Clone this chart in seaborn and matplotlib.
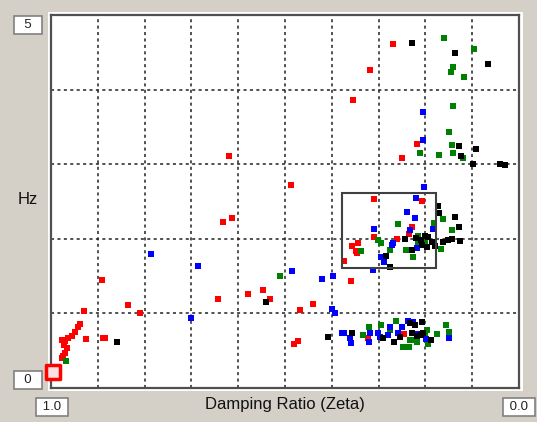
import matplotlib
matplotlib.use("Agg")
import matplotlib.pyplot as plt
import seaborn as sns
import pandas as pd
from matplotlib.patches import Rectangle

sns.set_theme(style="white")
plt.rcParams['font.family'] = ['Liberation Sans', 'DejaVu Sans']

# ---- data (damping ratio zeta, frequency Hz) ----
red_zeta = [0.938, 0.942, 0.949, 0.955, 0.964, 0.970, 0.976, 0.972, 0.966, 0.970, 0.974, 0.976,
            0.925, 0.889, 0.885, 0.929, 0.891, 0.835, 0.810, 0.643, 0.579, 0.547, 0.532, 0.440,
            0.468, 0.472, 0.481, 0.620, 0.487, 0.632, 0.613, 0.269, 0.318, 0.355, 0.218, 0.250,
            0.310, 0.207, 0.229, 0.310, 0.261, 0.235, 0.357, 0.348, 0.344, 0.346, 0.374, 0.359,
            0.323, 0.246]
red_hz = [0.86, 0.82, 0.75, 0.70, 0.67, 0.63, 0.64, 0.58, 0.54, 0.47, 0.43, 0.40,
          0.66, 0.67, 0.67, 1.03, 1.45, 1.11, 1.01, 1.19, 1.26, 1.31, 1.19, 1.13,
          1.05, 0.63, 0.59, 3.11, 2.72, 2.23, 2.28, 4.61, 4.26, 3.86, 3.27, 3.08,
          2.53, 2.51, 2.16, 2.02, 2.00, 2.06, 1.90, 1.84, 1.94, 1.81, 1.70, 1.43,
          0.67, 0.72]

black_zeta = [0.859, 0.541, 0.408, 0.229, 0.137, 0.066, 0.128, 0.124, 0.092, 0.098, 0.041, 0.030,
              0.173, 0.171, 0.137, 0.128, 0.220, 0.244, 0.201, 0.194, 0.186, 0.209, 0.207, 0.179,
              0.162, 0.152, 0.143, 0.126, 0.229, 0.197, 0.284, 0.276, 0.357, 0.291, 0.267, 0.233,
              0.222, 0.207, 0.209, 0.205, 0.188, 0.229, 0.218, 0.254]
black_hz = [0.62, 1.15, 0.68, 4.62, 4.49, 4.34, 3.24, 3.11, 3.20, 3.00, 3.00, 2.99,
            2.44, 2.35, 2.29, 2.16, 2.01, 2.00, 2.04, 2.02, 1.96, 1.98, 1.92, 1.90,
            1.96, 1.98, 2.00, 1.97, 1.85, 1.89, 1.77, 1.62, 0.74, 0.67, 0.62, 0.87,
            0.84, 0.88, 0.71, 0.74, 0.64, 0.74, 0.70, 0.68]

green_zeta = [0.968, 0.511, 0.160, 0.096, 0.141, 0.145, 0.118, 0.141, 0.150, 0.143, 0.212, 0.171,
              0.141, 0.120, 0.162, 0.259, 0.182, 0.143, 0.301, 0.295, 0.216, 0.201, 0.216, 0.241,
              0.276, 0.226, 0.167, 0.338, 0.333, 0.321, 0.295, 0.263, 0.248, 0.235, 0.224, 0.218,
              0.201, 0.197, 0.194, 0.175, 0.156, 0.150, 0.276, 0.233]
green_hz = [0.36, 1.50, 4.69, 4.54, 4.30, 4.24, 4.17, 3.78, 3.43, 3.26, 3.15, 3.12,
            3.15, 3.08, 2.27, 2.20, 2.21, 2.12, 1.98, 1.94, 2.04, 1.96, 1.94, 1.85,
            1.85, 1.76, 1.86, 1.84, 0.71, 0.82, 0.84, 0.90, 0.55, 0.55, 0.64, 0.62,
            0.74, 0.78, 0.59, 0.72, 0.84, 0.75, 0.78, 0.64]

blue_zeta = [0.786, 0.686, 0.701, 0.485, 0.421, 0.397, 0.400, 0.393, 0.378, 0.374, 0.205, 0.205,
             0.203, 0.220, 0.239, 0.222, 0.233, 0.184, 0.310, 0.269, 0.271, 0.218, 0.295, 0.289,
             0.312, 0.361, 0.359, 0.321, 0.318, 0.301, 0.297, 0.276, 0.250, 0.237, 0.226, 0.218,
             0.199, 0.150, 0.280, 0.259]
blue_hz = [1.80, 1.64, 0.94, 1.57, 1.46, 1.50, 1.06, 1.01, 0.74, 0.74, 3.70, 3.32,
           2.69, 2.55, 2.36, 2.28, 2.12, 2.13, 2.13, 1.94, 1.92, 1.88, 1.76, 1.69,
           1.58, 0.67, 0.60, 0.62, 0.74, 0.74, 0.68, 0.82, 0.82, 0.90, 0.88, 0.72,
           0.66, 0.67, 0.71, 0.74]

# highlighted mode at origin
sel_zeta = [0.996]
sel_hz = [0.21]

# selection box (zeta range, Hz range)
box_zeta = [0.378, 0.177]
box_hz = [1.61, 2.61]

x_limits = [1.0, 0.0]
y_limits = [0, 5]

groups = {"red": (red_zeta, red_hz), "green": (green_zeta, green_hz),
          "blue": (blue_zeta, blue_hz), "black": (black_zeta, black_hz)}
frames = []
for name, (z, h) in groups.items():
    frames.append(pd.DataFrame({"zeta": z, "hz": h, "series": name}))
df = pd.concat(frames, ignore_index=True)
palette = {"red": "#ff0000", "green": "#008000", "blue": "#0000ff", "black": "#000000"}

W, H = 537, 422
fig = plt.figure(figsize=(W / 100, H / 100), dpi=100)
fig.patch.set_facecolor("#d4d0c8")

# white panel behind plot area
fig.patches.append(Rectangle((48 / W, 1 - 391 / H), (523 - 48) / W, (391 - 12) / H,
                             transform=fig.transFigure, facecolor="white", edgecolor="none",
                             zorder=-10))

ax = fig.add_axes([51 / W, 1 - 388 / H, (519 - 51) / W, (388 - 15) / H])
ax.set_zorder(2)
ax.set_facecolor("white")

sns.scatterplot(data=df, x="zeta", y="hz", hue="series", palette=palette, marker="s",
                s=20, linewidth=0, legend=False, ax=ax, zorder=3)
ax.scatter(sel_zeta, sel_hz, marker="s", s=110, facecolor="#ffe0e0", edgecolor="#ff0000",
           linewidth=2.5, zorder=4, clip_on=False)

ax.add_patch(Rectangle((box_zeta[0], box_hz[0]), box_zeta[1] - box_zeta[0], box_hz[1] - box_hz[0],
                       fill=False, edgecolor="#404040", linewidth=1.5, zorder=5))

ax.set_xlim(*x_limits)
ax.set_ylim(*y_limits)
ax.set_xticks([i / 10 for i in range(11)])
ax.set_yticks(range(6))
ax.set_xticklabels([])
ax.set_yticklabels([])
ax.tick_params(length=0)
ax.grid(True, color="#222222", linestyle=(0, (2, 2.2)), linewidth=1.1)
ax.set_axisbelow(True)
ax.set_xlabel("")
ax.set_ylabel("")
for side, sp in ax.spines.items():
    sp.set_color("#505050")
    sp.set_linewidth(1.6)

def boxed(x, y, s, ha="center"):
    fig.text(x / W, 1 - y / H, s, ha=ha, va="center", fontsize=9.5, color="#222222",
             bbox=dict(boxstyle="square,pad=0.25", facecolor="white", edgecolor="#808080", linewidth=1.2))

boxed(28, 25, "  5  ")
boxed(28, 380, "  0  ")
boxed(52, 407, " 1.0 ")
boxed(519, 407, " 0.0 ")

fig.text(28 / W, 1 - 200 / H, "Hz", ha="center", va="center", fontsize=12, color="#111111")
fig.text(285 / W, 1 - 404 / H, "Damping Ratio (Zeta)", ha="center", va="center", fontsize=12,
         color="#111111")

fig.savefig("out.png", dpi=100, facecolor=fig.get_facecolor())
